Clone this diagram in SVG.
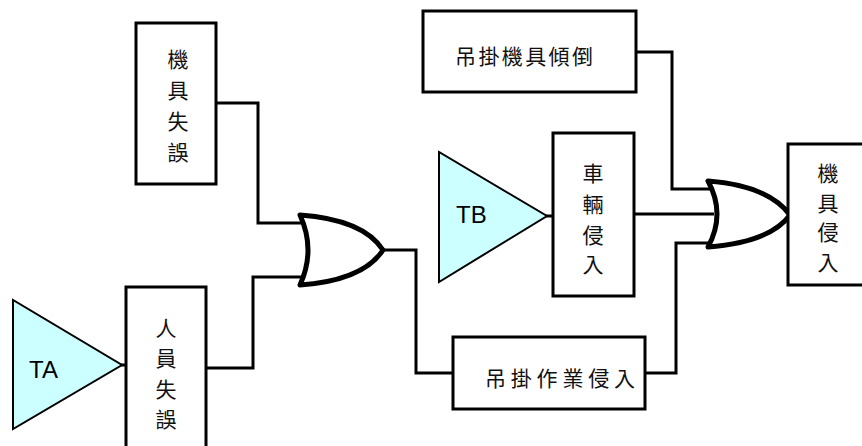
<svg xmlns="http://www.w3.org/2000/svg" width="862" height="446" viewBox="0 0 862 446">
  <style>
    .box { fill: #ffffff; stroke: #000000; stroke-width: 3; }
    .tri { fill: #ccffff; stroke: #000000; stroke-width: 2; }
    .gate { fill: #ffffff; stroke: #000000; stroke-width: 5; stroke-linejoin: round; }
    .wire { fill: none; stroke: #000000; stroke-width: 3; }
    .cjk { font-family: "Noto Sans CJK TC", "Noto Sans CJK SC", sans-serif; font-size: 21px; fill: #111111; text-anchor: middle; dominant-baseline: central; }
    .hz { text-anchor: start; }
    .lat { font-family: "Liberation Sans", Arial, sans-serif; font-size: 24px; fill: #000000; }
  </style>
  <rect width="862" height="446" fill="#ffffff"/>

  <!-- connectors -->
  <g id="connectors">
    <path class="wire" d="M216,103 H258 V223 H304"/>
    <path class="wire" d="M206,368 H253 V277 H304"/>
    <path class="wire" d="M383,250 H416 V373 H453"/>
    <path class="wire" d="M636,52 H672 V189 H712"/>
    <path class="wire" d="M634,214 H714"/>
    <path class="wire" d="M645,373 H676 V243 H712"/>
    <path class="wire" d="M121,365 H127"/>
    <path class="wire" d="M546,216 H554"/>
  </g>

  <g id="machine-error">
    <rect class="box" x="136" y="23" width="80" height="161"/>
    <text class="cjk" x="178" y="58">機</text>
    <text class="cjk" x="178" y="89">具</text>
    <text class="cjk" x="178" y="120">失</text>
    <text class="cjk" x="178" y="151">誤</text>
  </g>

  <g id="ta">
    <polygon class="tri" points="13,300 13,429 122,365"/>
    <text class="lat" x="29" y="378">TA</text>
  </g>

  <g id="human-error">
    <rect class="box" x="126" y="287" width="80" height="175"/>
    <text class="cjk" x="166" y="327">人</text>
    <text class="cjk" x="166" y="357">員</text>
    <text class="cjk" x="166" y="388">失</text>
    <text class="cjk" x="166" y="418">誤</text>
  </g>

  <g id="or-gate-1">
    <path class="gate" d="M300,215 C342,218 370,230 383,250 C370,270 342,282 300,285 Q316,250 300,215 Z"/>
  </g>

  <g id="crane-tipping">
    <rect class="box" x="423" y="11" width="213" height="81"/>
    <text class="cjk hz" x="455" y="55" textLength="138" lengthAdjust="spacing">吊掛機具傾倒</text>
  </g>

  <g id="tb">
    <polygon class="tri" points="439,152 439,282 547,216"/>
    <text class="lat" x="456" y="223">TB</text>
  </g>

  <g id="vehicle-intrusion">
    <rect class="box" x="553" y="133" width="81" height="163"/>
    <text class="cjk" x="593" y="172">車</text>
    <text class="cjk" x="593" y="203">輛</text>
    <text class="cjk" x="593" y="234">侵</text>
    <text class="cjk" x="593" y="263">入</text>
  </g>

  <g id="lifting-intrusion">
    <rect class="box" x="453" y="337" width="192" height="72"/>
    <text class="cjk hz" x="485" y="377" textLength="150" lengthAdjust="spacing">吊掛作業侵入</text>
  </g>

  <g id="or-gate-2">
    <path class="gate" d="M708,181 C748,184 776,196 790,215 C776,234 748,244 708,247 Q726,214 708,181 Z"/>
  </g>

  <g id="machine-intrusion">
    <rect class="box" x="788" y="144" width="82" height="141"/>
    <text class="cjk" x="828" y="172">機</text>
    <text class="cjk" x="828" y="202">具</text>
    <text class="cjk" x="828" y="231">侵</text>
    <text class="cjk" x="828" y="261">入</text>
  </g>
</svg>
